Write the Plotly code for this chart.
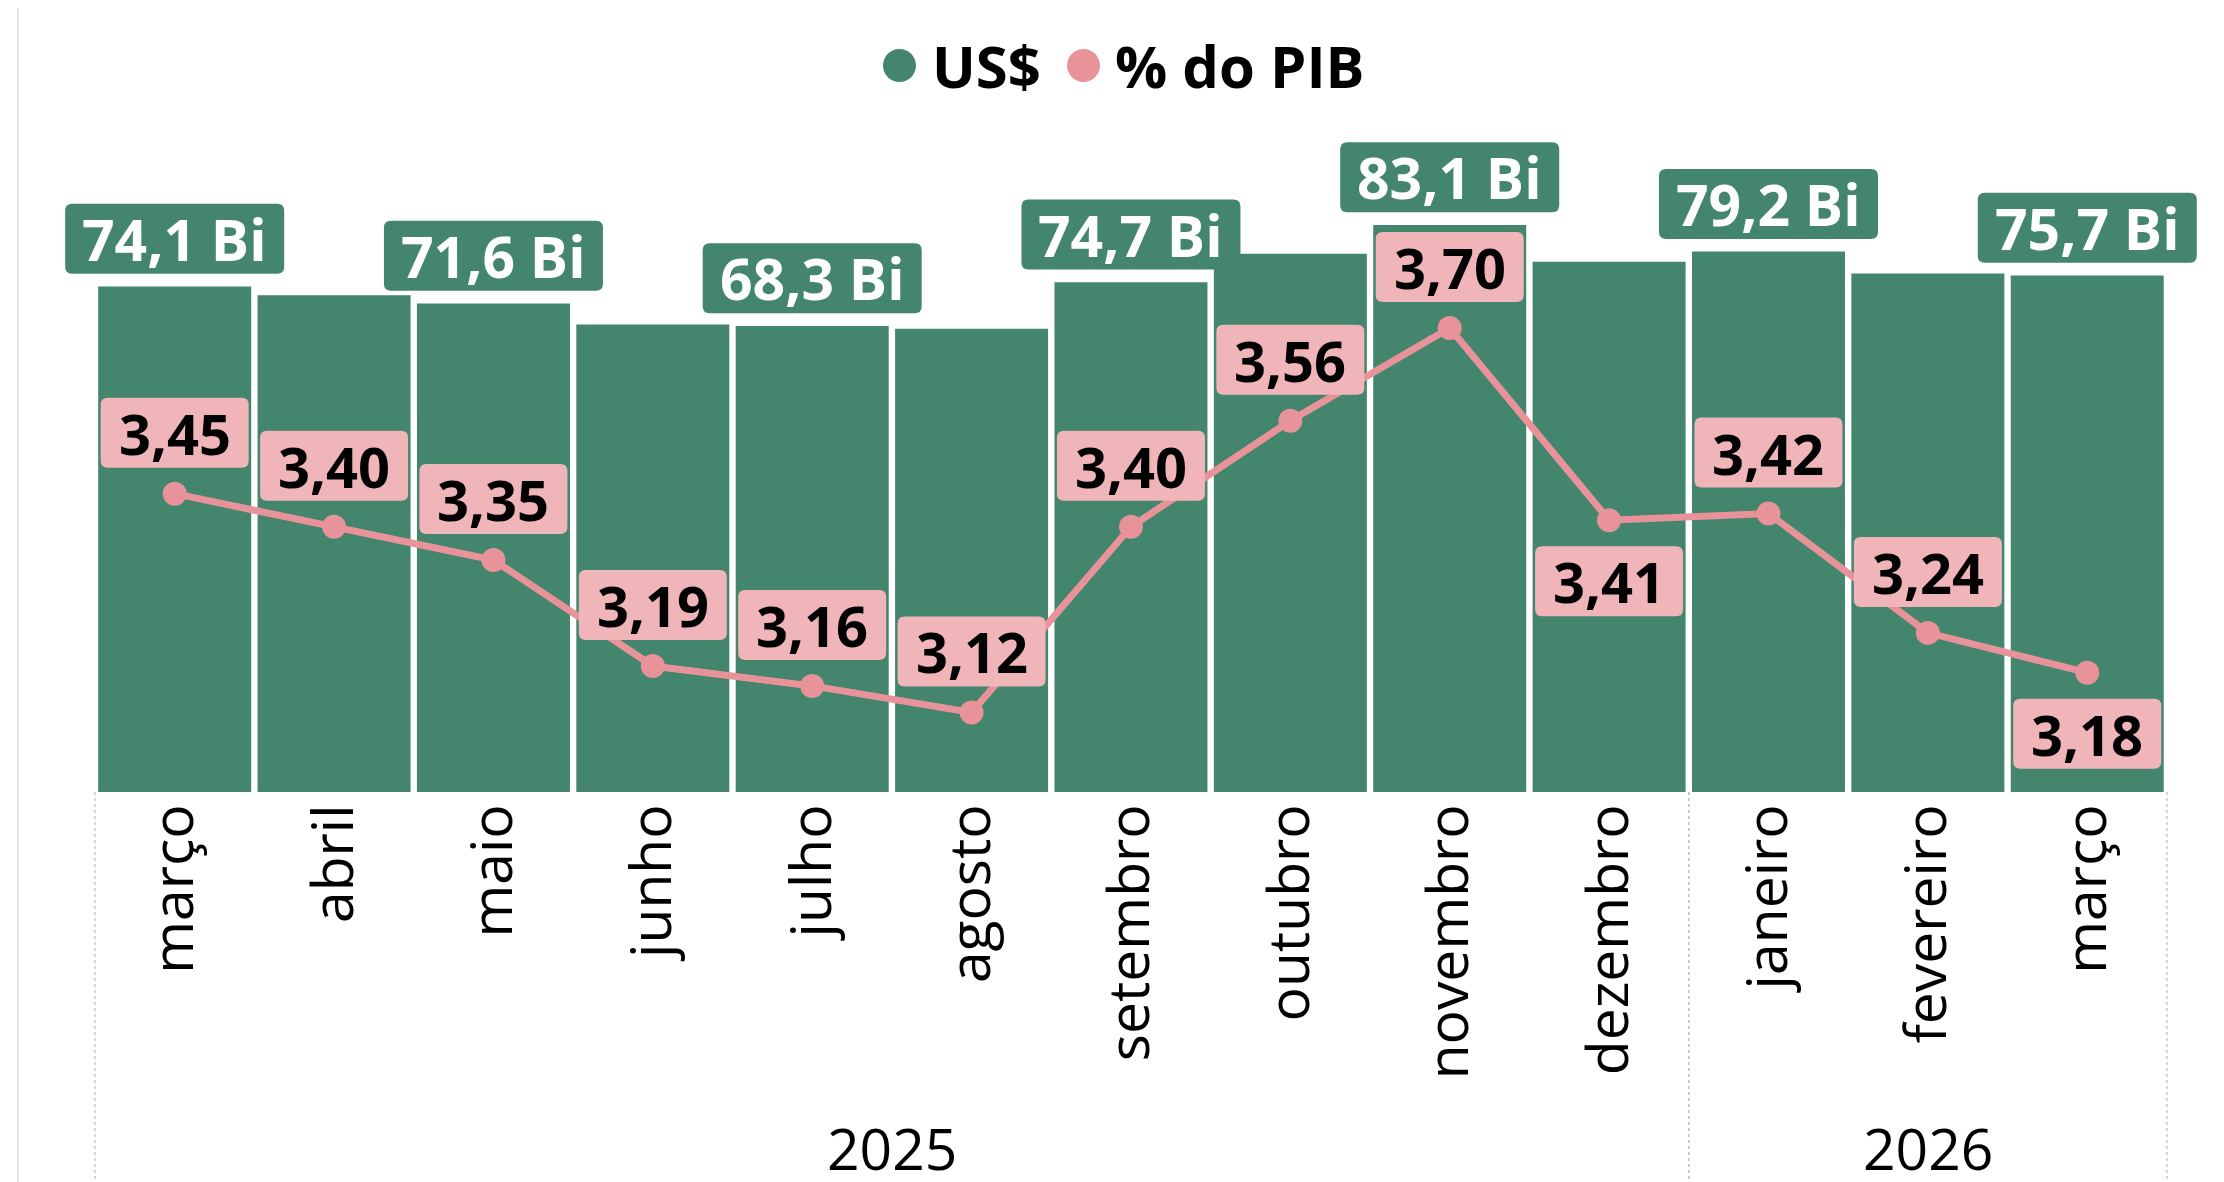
import plotly.graph_objects as go

# dados (US$ bilhões e % do PIB por mês)
months = ["março", "abril", "maio", "junho", "julho", "agosto", "setembro",
          "outubro", "novembro", "dezembro", "janeiro", "fevereiro", "março"]
years = ["2025"] * 10 + ["2026"] * 3
usd_bi = [74.1, 72.8, 71.6, 68.5, 68.3, 67.9, 74.7, 78.9, 83.1, 77.7, 79.2, 76.0, 75.7]
pct_pib = [3.45, 3.40, 3.35, 3.19, 3.16, 3.12, 3.40, 3.56, 3.70, 3.41, 3.42, 3.24, 3.18]

# where each % label sits relative to its point
pib_label_side = ["above"] * 9 + ["below", "above", "above", "below"]

GREEN = "#44856D"
PINK = "#E8929A"
PINK_BOX = "#F0B5B9"
FONT = "Open Sans"

# the page body has an 8px margin, so the figure is drawn 8px in
OFF = 8
W, H = 2224 - OFF, 1182 - OFF
M = dict(l=22, r=20, t=121, b=390)
PLOT_W = W - M["l"] - M["r"]
PLOT_H = H - M["t"] - M["b"]
X_RANGE = [-0.9078, 12.7326]   # wider than the bars so edge labels are not clipped


def px_x(px):
    return (px - OFF - M["l"]) / PLOT_W


def px_y(py):
    return (H - M["b"] - (py - OFF)) / PLOT_H


def rounded_box(w, h, r, cy):
    x0, x1 = -w / 2, w / 2
    y0, y1 = cy - h / 2, cy + h / 2
    return (f"M{x0 + r},{y0} L{x1 - r},{y0} Q{x1},{y0} {x1},{y0 + r} "
            f"L{x1},{y1 - r} Q{x1},{y1} {x1 - r},{y1} L{x0 + r},{y1} "
            f"Q{x0},{y1} {x0},{y1 - r} L{x0},{y0 + r} Q{x0},{y0} {x0 + r},{y0} Z")


def fmt(v, nd):
    return f"{v:.{nd}f}".replace(".", ",")


x = list(range(len(months)))

fig = go.Figure()
fig.add_trace(go.Bar(x=x, y=usd_bi, marker=dict(color=GREEN, line=dict(width=0)),
                     name="US$", hoverinfo="skip"))
fig.add_trace(go.Scatter(x=x, y=pct_pib, yaxis="y2", mode="lines+markers",
                         line=dict(color=PINK, width=7),
                         marker=dict(size=24, color=PINK),
                         name="% do PIB", hoverinfo="skip"))

shapes = []
annotations = []

# rótulos das barras (um sim, um não)
for i, v in enumerate(usd_bi):
    if i % 2:
        continue
    shapes.append(dict(type="path", xref="x", yref="y", xsizemode="pixel", ysizemode="pixel",
                       xanchor=i, yanchor=v, path=rounded_box(219, 70, 7, 47.7),
                       fillcolor=GREEN, line=dict(width=0), layer="above"))
    annotations.append(dict(x=i, y=v, yshift=47.7, text=fmt(v, 1) + " Bi", showarrow=False,
                            xanchor="center", yanchor="middle",
                            font=dict(family=FONT, size=57, color="white", weight="bold")))

# rótulos da linha
for i, (v, side) in enumerate(zip(pct_pib, pib_label_side)):
    dy = 61 if side == "above" else -61
    shapes.append(dict(type="path", xref="x", yref="y2", xsizemode="pixel", ysizemode="pixel",
                       xanchor=i, yanchor=v, path=rounded_box(148, 70, 7, dy),
                       fillcolor=PINK_BOX, line=dict(width=0), layer="above"))
    annotations.append(dict(x=i, y=v, yref="y2", yshift=dy, text=fmt(v, 2), showarrow=False,
                            xanchor="center", yanchor="middle",
                            font=dict(family=FONT, size=56, color="black", weight="bold")))

# separadores de ano e rótulos de ano
year_order = []
for yv in years:
    if yv not in year_order:
        year_order.append(yv)
for yv in year_order:
    idx = [i for i, y in enumerate(years) if y == yv]
    first, last = idx[0], idx[-1]
    annotations.append(dict(x=(first + last) / 2, y=px_y(1148), yref="paper", text=yv,
                            showarrow=False, xanchor="center", yanchor="middle",
                            font=dict(family=FONT, size=57, color="black")))
    for xs in (first - 0.5, last + 0.5):
        shapes.append(dict(type="line", xref="x", yref="paper", x0=xs, x1=xs,
                           y0=0, y1=px_y(1182), line=dict(color="#C8C8C8", width=1.5, dash="dot")))

# borda esquerda do visual
shapes.append(dict(type="line", xref="paper", yref="paper", x0=px_x(18), x1=px_x(18),
                   y0=px_y(OFF), y1=px_y(1182), line=dict(color="#E6E6E6", width=2)))

# legenda manual
legend_items = [("US$", GREEN, 899.5, 930), ("% do PIB", PINK, 1083.5, 1113)]
for label, color, cx, tx in legend_items:
    shapes.append(dict(type="circle", xref="paper", yref="paper", xsizemode="pixel",
                       ysizemode="pixel", xanchor=px_x(cx), yanchor=px_y(65.5),
                       x0=-16.5, x1=16.5, y0=-16.5, y1=16.5,
                       fillcolor=color, line=dict(width=0)))
    annotations.append(dict(x=px_x(tx), y=px_y(66), xref="paper", yref="paper", text=label,
                            showarrow=False, xanchor="left", yanchor="middle",
                            font=dict(family=FONT, size=58, color="black", weight="bold")))

fig.update_layout(
    width=W,
    height=H,
    margin=dict(l=M["l"], r=M["r"], t=M["t"], b=M["b"], pad=0, autoexpand=False),
    plot_bgcolor="white",
    paper_bgcolor="white",
    showlegend=False,
    bargap=0.04,
    xaxis=dict(range=X_RANGE, tickmode="array", tickvals=x, ticktext=months,
               tickangle=-90, tickfont=dict(family=FONT, size=57, color="black"),
               showgrid=False, zeroline=False, showline=False, ticks=""),
    yaxis=dict(range=[0, PLOT_H / 6.823], visible=False, showgrid=False),
    yaxis2=dict(range=[3.0, 4.0], overlaying="y", visible=False, showgrid=False),
    shapes=shapes,
    annotations=annotations,
)

fig.write_html("out.html")
